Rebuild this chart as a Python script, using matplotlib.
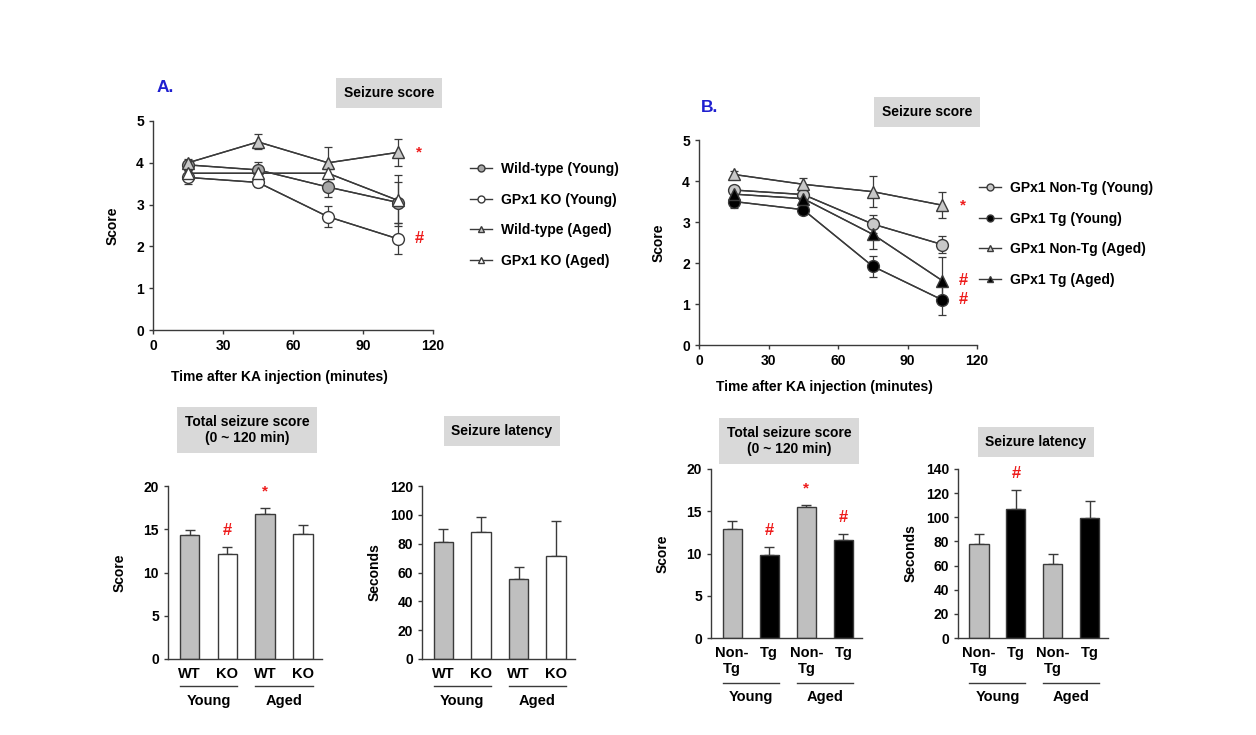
import matplotlib
matplotlib.use("Agg")
import matplotlib.pyplot as plt
import matplotlib.transforms as mtransforms
from matplotlib.lines import Line2D

plt.rcParams['font.family'] = ['Liberation Sans', 'DejaVu Sans']
plt.rcParams['font.weight'] = 'bold'
plt.rcParams['axes.labelweight'] = 'bold'

W, H = 1256, 735
DARK = '#3a3a3a'
RED = '#ee1c1c'

# ---- data ----
times = [15, 45, 75, 105]

# panel A line
a_labels = ['Wild-type (Young)', 'GPx1 KO (Young)', 'Wild-type (Aged)', 'GPx1 KO (Aged)']
a_wt_young = [3.95, 3.83, 3.42, 3.05]
a_wt_young_err = [0.10, 0.20, 0.25, 0.50]
a_ko_young = [3.65, 3.53, 2.71, 2.18]
a_ko_young_err = [0.15, 0.12, 0.25, 0.37]
a_wt_aged = [4.00, 4.50, 4.00, 4.25]
a_wt_aged_err = [0.08, 0.18, 0.38, 0.32]
a_ko_aged = [3.75, 3.75, 3.75, 3.10]
a_ko_aged_err = [0.08, 0.10, 0.10, 0.60]

# panel B line
b_labels = ['GPx1 Non-Tg (Young)', 'GPx1 Tg (Young)', 'GPx1 Non-Tg (Aged)', 'GPx1 Tg (Aged)']
b_nontg_young = [3.78, 3.67, 2.95, 2.45]
b_nontg_young_err = [0.10, 0.10, 0.22, 0.20]
b_tg_young = [3.50, 3.30, 1.92, 1.10]
b_tg_young_err = [0.15, 0.10, 0.25, 0.38]
b_nontg_aged = [4.16, 3.92, 3.74, 3.41]
b_nontg_aged_err = [0.08, 0.15, 0.38, 0.32]
b_tg_aged = [3.68, 3.57, 2.70, 1.57]
b_tg_aged_err = [0.10, 0.10, 0.35, 0.58]

# bars
a_bar_ticks = ['WT', 'KO', 'WT', 'KO']
b_bar_ticks = ['Non-\nTg', 'Tg', 'Non-\nTg', 'Tg']
groups = ['Young', 'Aged']

a_total = [14.3, 12.1, 16.8, 14.4]
a_total_err = [0.6, 0.8, 0.65, 1.1]
a_total_sig = ['', '#', '*', '']
a_latency = [81.5, 88.2, 55.5, 71.6]
a_latency_err = [8.8, 10.4, 8.4, 24.3]
a_latency_sig = ['', '', '', '']

b_total = [12.9, 9.8, 15.5, 11.55]
b_total_err = [1.0, 1.0, 0.27, 0.72]
b_total_sig = ['', '#', '*', '#']
b_latency = [77.6, 106.9, 61.6, 99.4]
b_latency_err = [8.6, 15.7, 8.3, 14.4]
b_latency_sig = ['', '#', '', '']

FS = 10  # base font size


def px_axes(x0, x1, y_top, y_bot):
    return fig.add_axes([x0 / W, 1 - y_bot / H, (x1 - x0) / W, (y_bot - y_top) / H])


def style(ax):
    for s in ['top', 'right']:
        ax.spines[s].set_visible(False)
    for s in ['left', 'bottom']:
        ax.spines[s].set_color(DARK)
        ax.spines[s].set_linewidth(1.0)
    ax.tick_params(colors=DARK, labelcolor='black', labelsize=FS, width=1.0, length=3)


def box_title(x, y, text):
    fig.text(x / W, 1 - y / H, text, ha='center', va='center', fontsize=FS,
             fontweight='bold', linespacing=1.25,
             bbox=dict(boxstyle='square,pad=0.55', facecolor='#d9d9d9', edgecolor='none'))


fig = plt.figure(figsize=(W / 100, H / 100), dpi=100)


def line_panel(ax, series, errs, fills, markers, labels, sig, leg_xy, xlab_y):
    style(ax)
    handles = []
    for y, e, fc, m, lab in zip(series, errs, fills, markers, labels):
        ax.errorbar(times, y, yerr=e, color=DARK, lw=1.0, elinewidth=0.9, capsize=3,
                    capthick=0.9, zorder=2)
        ax.plot(times, y, color=DARK, lw=1.0, marker=m, markersize=8.5,
                markerfacecolor=fc, markeredgecolor=DARK, markeredgewidth=1.0, zorder=3)
        handles.append(Line2D([], [], color=DARK, lw=1.0, marker=m, markersize=5,
                              markerfacecolor=fc, markeredgecolor=DARK, label=lab))
    for idx, sym in sig:
        ax.annotate(sym, (times[-1], series[idx][-1]), xytext=(15, 0),
                    textcoords='offset points', ha='center', va='center',
                    color=RED, fontsize=12 if sym == '#' else 11, fontweight='bold')
    ax.set_xlim(0, 120)
    ax.set_ylim(0, 5)
    ax.set_xticks([0, 30, 60, 90, 120])
    ax.set_yticks(range(6))
    ax.set_ylabel('Score', fontsize=FS, labelpad=12)
    ax.set_xlabel('Time after KA injection (minutes)', fontsize=FS)
    ax.xaxis.set_label_coords(0.45, xlab_y)
    ax.legend(handles=handles, loc='upper left', bbox_to_anchor=leg_xy,
              bbox_transform=fig.transFigure, frameon=False, fontsize=FS,
              handlelength=1.6, handletextpad=0.6, labelspacing=1.2, borderpad=0,
              borderaxespad=0)


axA = px_axes(153, 433, 121, 330)
line_panel(axA, [a_wt_young, a_ko_young, a_wt_aged, a_ko_aged],
           [a_wt_young_err, a_ko_young_err, a_wt_aged_err, a_ko_aged_err],
           ['#a6a6a6', 'white', '#c8c8c8', 'white'], ['o', 'o', '^', '^'],
           a_labels, [(2, '*'), (1, '#')], (470 / W, 1 - 162 / H), -0.19)

axB = px_axes(699, 977, 140, 345)
line_panel(axB, [b_nontg_young, b_tg_young, b_nontg_aged, b_tg_aged],
           [b_nontg_young_err, b_tg_young_err, b_nontg_aged_err, b_tg_aged_err],
           ['#c8c8c8', 'black', '#c8c8c8', 'black'], ['o', 'o', '^', '^'],
           b_labels, [(2, '*'), (3, '#'), (1, '#')], (979 / W, 1 - 181 / H), -0.17)


def bar_panel(ax, vals, errs, sig, fills, ticks, ylim, step, two_line):
    style(ax)
    xs = list(range(len(vals)))
    w = 0.52
    ax.bar(xs, vals, width=w, color=fills, edgecolor=DARK, linewidth=1.0, zorder=2)
    ax.errorbar(xs, vals, yerr=[[0] * len(errs), errs], fmt='none', ecolor=DARK,
                elinewidth=1.0, capsize=3.5, capthick=1.0, zorder=1)
    for x, v, e, s in zip(xs, vals, errs, sig):
        if s:
            ax.annotate(s, (x, v + e), xytext=(0, 12), textcoords='offset points',
                        ha='center', va='center', color=RED,
                        fontsize=12 if s == '#' else 11, fontweight='bold')
    ax.set_xlim(-0.57, 3.5)
    ax.set_ylim(0, ylim)
    ax.set_yticks(range(0, ylim + 1, step))
    ax.set_xticks(xs)
    ax.set_xticklabels(ticks, fontsize=10.5, linespacing=1.15)
    ax.tick_params(axis='x', length=0, pad=6)
    # group underline + label
    hpx = ax.get_position().height * H
    line_px, text_px = (45, 59) if two_line else (27, 42)
    tr = mtransforms.blended_transform_factory(ax.transData, ax.transAxes)
    for g, lab in enumerate(groups):
        a, b = 2 * g, 2 * g + 1
        ax.plot([a - w / 2, b + w / 2], [-line_px / hpx] * 2, transform=tr,
                color=DARK, lw=1.0, clip_on=False)
        ax.text((a + b) / 2, -text_px / hpx, lab, transform=tr, ha='center',
                va='center', fontsize=10.5, fontweight='bold')


GRAY = '#bfbfbf'
ax = px_axes(168, 322, 486, 659)
bar_panel(ax, a_total, a_total_err, a_total_sig, [GRAY, 'white', GRAY, 'white'],
          a_bar_ticks, 20, 5, False)
ax.set_ylabel('Score', fontsize=FS, labelpad=12)

ax = px_axes(422, 575, 486, 659)
bar_panel(ax, a_latency, a_latency_err, a_latency_sig, [GRAY, 'white', GRAY, 'white'],
          a_bar_ticks, 120, 20, False)
ax.set_ylabel('Seconds', fontsize=FS, labelpad=6)

ax = px_axes(711, 862, 469, 638)
bar_panel(ax, b_total, b_total_err, b_total_sig, [GRAY, 'black', GRAY, 'black'],
          b_bar_ticks, 20, 5, True)
ax.set_ylabel('Score', fontsize=FS, labelpad=12)

ax = px_axes(958, 1108, 469, 638)
bar_panel(ax, b_latency, b_latency_err, b_latency_sig, [GRAY, 'black', GRAY, 'black'],
          b_bar_ticks, 140, 20, True)
ax.set_ylabel('Seconds', fontsize=FS, labelpad=6)

# titles
fig.text(157 / W, 1 - 88 / H, 'A.', color='#1f1fd0', fontsize=12.5, fontweight='bold',
         ha='left', va='center')
fig.text(701 / W, 1 - 107 / H, 'B.', color='#1f1fd0', fontsize=12.5, fontweight='bold',
         ha='left', va='center')
box_title(389, 93, 'Seizure score')
box_title(927, 112, 'Seizure score')
box_title(247, 430, 'Total seizure score\n(0 ~ 120 min)')
box_title(502, 431, 'Seizure latency')
box_title(789, 441, 'Total seizure score\n(0 ~ 120 min)')
box_title(1036, 442, 'Seizure latency')

fig.savefig('out.png', dpi=100)
